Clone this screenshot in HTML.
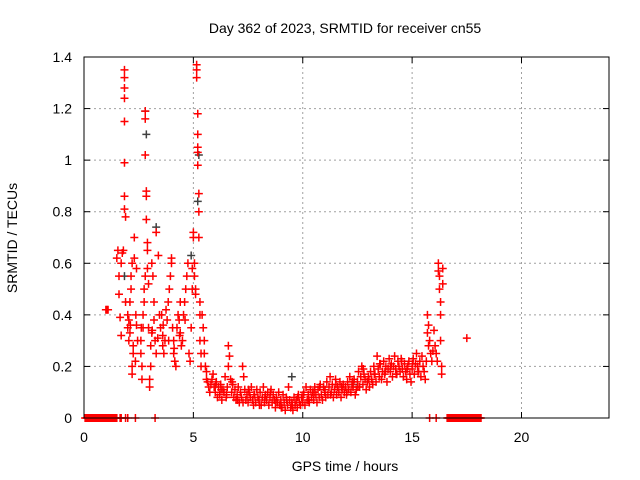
<!DOCTYPE html>
<html><head><meta charset="utf-8"><style>
html,body{margin:0;padding:0;background:#fff}
svg{display:block;font-family:"Liberation Sans",sans-serif}
</style></head><body>
<svg id="chart" width="640" height="480" viewBox="0 0 640 480">
<rect width="640" height="480" fill="#fff"/>
<text x="345" y="33" font-size="14" text-anchor="middle">Day 362 of 2023, SRMTID for receiver cn55</text>
<text x="345" y="471" font-size="14" text-anchor="middle">GPS time / hours</text>
<text transform="translate(17,238) rotate(-90)" font-size="14" text-anchor="middle">SRMTID / TECUs</text>
<g id="grid"></g>
<g id="ticks"></g>
<g id="gray"></g>
<g id="red"></g>
<rect x="84" y="57" width="525" height="361" fill="none" stroke="#000" stroke-width="1"/>
</svg>
<script>
const xTicks=[0,5,10,15,20];
const yTicks=[0,0.2,0.4,0.6,0.8,1,1.2,1.4];
const yTickLabels=["0","0.2","0.4","0.6","0.8","1","1.2","1.4"];
const redT=[
0.05,0.1,0.15,0.2,0.25,0.3,0.35,0.4,0.45,0.5,0.55,0.6,0.65,0.7,0.75,0.8,0.85,0.9,0.95,1.0,1.05,1.1,1.15,1.2,1.25,1.3,1.35,1.4,1.45,1.5,1.65,1.7,1.9,2.0,2.35,3.25,
15.8,16.1,16.6,16.65,16.7,16.75,16.8,16.85,16.9,16.95,17.0,17.05,17.1,17.15,17.2,17.25,17.3,17.35,17.4,17.45,17.5,17.55,17.6,17.65,17.7,17.75,17.8,17.85,17.9,17.95,18.0,18.05,18.1,18.15,
1.0,1.05,1.1,
1.5,1.55,1.6,1.6,1.65,1.7,1.7,1.75,1.8,1.85,1.85,1.85,1.85,1.85,1.85,1.85,1.85,1.9,1.9,
2.0,2.0,2.05,2.05,2.1,2.1,2.15,2.15,2.2,2.2,2.2,2.25,2.25,2.3,2.3,2.35,2.4,2.4,2.45,
2.6,2.6,2.65,2.65,2.7,2.7,2.75,2.75,2.8,2.8,2.8,2.8,2.85,2.85,2.85,2.9,2.9,2.9,2.95,2.95,
3.0,3.0,3.05,3.05,3.1,3.1,3.15,3.2,3.2,3.25,3.3,3.3,3.4,3.45,
3.5,3.55,3.6,3.6,3.65,3.7,3.75,3.8,3.85,3.9,3.95,4.0,4.0,4.05,4.1,4.1,4.15,4.2,4.25,4.3,4.35,4.4,4.4,4.45,
4.5,4.55,4.6,4.65,4.7,4.75,4.8,4.85,4.9,4.95,4.95,
5.0,5.0,5.05,5.05,5.1,5.1,5.15,5.15,5.15,5.2,5.2,5.2,5.2,5.2,5.25,5.25,5.25,5.3,5.3,5.3,5.35,5.35,
5.4,5.45,5.5,5.5,5.55,5.6,5.6,5.65,5.7,5.75,5.8,5.85,5.9,5.95,
6.0,6.05,6.1,6.15,6.2,6.25,6.3,6.35,6.4,6.45,6.5,6.55,6.6,6.6,6.65,6.7,6.75,6.8,6.85,6.9,6.95,
7.0,7.05,7.1,7.15,7.2,7.25,7.3,7.35,7.4,7.45,7.5,7.55,7.6,7.65,7.7,7.75,7.8,7.85,7.9,7.95,
8.0,8.05,8.1,8.15,8.2,8.25,8.3,8.35,8.4,8.45,8.5,8.55,8.6,8.65,8.7,8.75,8.8,8.85,8.9,8.95,
9.0,9.05,9.1,9.15,9.2,9.25,9.3,9.35,9.4,9.45,9.5,9.55,9.6,9.65,9.7,9.75,9.8,9.85,9.9,9.95,
10.0,10.05,10.1,10.15,10.2,10.25,10.3,10.35,10.4,10.45,10.5,10.55,10.6,10.65,10.7,10.75,10.8,10.85,10.9,10.95,
11.0,11.05,11.1,11.15,11.2,11.25,11.3,11.35,11.4,11.45,11.5,11.55,11.6,11.65,11.7,11.75,11.8,11.85,11.9,11.95,
12.0,12.05,12.1,12.15,12.2,12.25,12.3,12.35,12.4,12.45,12.5,12.55,12.6,12.65,12.7,12.75,12.8,12.85,12.9,12.95,
13.0,13.05,13.1,13.15,13.2,13.25,13.3,13.35,13.4,13.45,13.5,13.55,13.6,13.65,13.7,13.75,13.8,13.85,13.9,13.95,
14.0,14.05,14.1,14.15,14.2,14.25,14.3,14.35,14.4,14.45,14.5,14.55,14.6,14.65,14.7,14.75,14.8,14.85,14.9,14.95,
15.0,15.05,15.1,15.15,15.2,15.25,15.3,15.35,15.4,15.45,15.5,15.55,15.6,15.65,15.7,15.7,15.75,15.75,15.8,15.85,15.9,15.95,
16.0,16.05,16.1,16.15,16.2,16.2,16.25,16.25,16.3,16.3,16.3,16.35,16.35,16.4,16.4,17.5,
6.02,6.27,6.52,6.77,7.02,7.27,7.52,7.77,8.02,8.27,8.52,8.77,9.02,9.27,9.52,9.77,10.02,10.27,10.52,10.77,
11.02,11.27,11.52,11.77,12.02,12.27,12.52,12.77,13.02,13.27,13.52,13.77,14.02,14.27,14.52,14.77,15.02,15.27,
3.62,3.87,4.12,4.37,4.62,2.12,2.37,2.62,3.12,3.37
];
const redV=[
0,0,0,0,0,0,0,0,0,0,0,0,0,0,0,0,0,0,0,0,0,0,0,0,0,0,0,0,0,0,0,0,0,0,0,0,
0,0,0,0,0,0,0,0,0,0,0,0,0,0,0,0,0,0,0,0,0,0,0,0,0,0,0,0,0,0,0,0,0,0,
0.42,0.42,0.42,
0.62,0.65,0.55,0.48,0.39,0.32,0.6,0.64,0.65,1.35,1.32,1.28,1.24,1.15,0.99,0.86,0.81,0.78,0.45,
0.4,0.35,0.3,0.38,0.33,0.45,0.5,0.55,0.6,0.17,0.2,0.25,0.28,0.7,0.62,0.22,0.36,0.58,0.3,
0.3,0.25,0.2,0.15,0.35,0.4,0.45,0.5,0.55,1.19,1.16,1.02,0.88,0.86,0.77,0.68,0.65,0.58,0.52,0.35,
0.15,0.12,0.2,0.28,0.33,0.6,0.55,0.45,0.38,0.3,0.25,0.72,0.63,0.4,
0.35,0.4,0.32,0.28,0.25,0.3,0.42,0.38,0.45,0.5,0.55,0.6,0.62,0.35,0.3,0.25,0.22,0.2,0.35,0.4,0.38,0.45,0.33,0.28,
0.3,0.4,0.45,0.5,0.55,0.6,0.25,0.22,0.35,0.5,0.58,
0.7,0.72,0.6,0.55,0.5,0.48,1.37,1.35,1.32,1.18,1.1,1.05,1.03,0.98,0.87,0.8,0.7,0.45,0.4,0.3,0.25,0.2,
0.4,0.35,0.3,0.25,0.2,0.18,0.15,0.14,0.12,0.1,0.13,0.15,0.17,0.12,
0.1,0.14,0.08,0.12,0.09,0.13,0.07,0.11,0.1,0.16,0.08,0.12,0.28,0.2,0.24,0.15,0.1,0.13,0.08,0.11,0.07,
0.09,0.12,0.06,0.1,0.08,0.2,0.16,0.11,0.07,0.09,0.06,0.1,0.08,0.12,0.07,0.05,0.09,0.06,0.11,0.08,
0.07,0.1,0.05,0.08,0.12,0.06,0.09,0.07,0.1,0.05,0.08,0.11,0.06,0.09,0.07,0.04,0.08,0.06,0.1,0.05,
0.07,0.04,0.09,0.06,0.03,0.08,0.05,0.12,0.07,0.04,0.06,0.03,0.08,0.05,0.07,0.04,0.09,0.06,0.05,0.08,
0.06,0.1,0.05,0.12,0.07,0.09,0.06,0.11,0.08,0.1,0.07,0.12,0.09,0.06,0.11,0.08,0.13,0.09,0.07,0.12,
0.1,0.08,0.14,0.09,0.12,0.16,0.1,0.13,0.08,0.11,0.15,0.09,0.12,0.1,0.14,0.08,0.11,0.13,0.1,0.12,
0.09,0.14,0.11,0.16,0.1,0.13,0.12,0.15,0.09,0.11,0.14,0.18,0.12,0.16,0.2,0.13,0.17,0.15,0.11,0.14,
0.16,0.12,0.18,0.15,0.13,0.2,0.17,0.14,0.24,0.19,0.16,0.21,0.15,0.18,0.22,0.17,0.2,0.14,0.19,0.23,
0.18,0.21,0.16,0.2,0.24,0.19,0.17,0.22,0.2,0.18,0.23,0.19,0.16,0.21,0.18,0.15,0.2,0.22,0.17,0.14,
0.19,0.23,0.17,0.21,0.25,0.2,0.18,0.22,0.16,0.24,0.2,0.18,0.15,0.22,0.4,0.33,0.28,0.36,0.3,0.25,0.22,0.26,
0.34,0.28,0.25,0.22,0.6,0.57,0.55,0.5,0.45,0.4,0.3,0.2,0.17,0.52,0.58,0.31,
0.13,0.11,0.09,0.14,0.07,0.06,0.11,0.09,0.05,0.08,0.1,0.06,0.04,0.07,0.05,0.08,0.09,0.07,0.1,0.12,
0.11,0.09,0.13,0.12,0.1,0.14,0.12,0.19,0.15,0.17,0.21,0.18,0.2,0.17,0.22,0.19,0.21,0.18,
0.36,0.3,0.27,0.32,0.38,0.36,0.4,0.35,0.34,0.31
];
const grayT=[1.85,2.8,2.85,3.3,4.9,5.2,5.25,9.5,12.3];
const grayV=[0.55,1.19,1.1,0.74,0.63,0.84,1.02,0.16,0.13];

const NS="http://www.w3.org/2000/svg";
const X0=84,X1=609,Y0=418,Y1=57;
function xs(t){return X0+(t/24)*(X1-X0);}
function ys(v){return Y0-(v/1.4)*(Y0-Y1);}
const grid=document.getElementById('grid'),ticks=document.getElementById('ticks');
function mk(tag,attrs,parent){const e=document.createElementNS(NS,tag);for(const k in attrs)e.setAttribute(k,attrs[k]);parent.appendChild(e);return e;}
xTicks.forEach(t=>{
  const x=xs(t);
  if(t>0){const g=mk('line',{x1:x,x2:x,y1:Y1,y2:Y0,stroke:'#a0a0a0','stroke-dasharray':'2,3'},grid);
  
  }
  const a=mk('line',{x1:x,x2:x,y1:Y0,y2:Y0-6,stroke:'#000'},ticks);
  
  
  const b=mk('line',{x1:x,x2:x,y1:Y1,y2:Y1+6,stroke:'#000'},ticks);
  
  
  const l=mk('text',{x:x,y:442,'font-size':'14','text-anchor':'middle'},ticks);
  l.textContent=String(t);
  
  
});
yTicks.forEach((v,i)=>{
  const y=ys(v);
  if(v>0&&v<1.4){const g=mk('line',{x1:X0,x2:X1,y1:y,y2:y,stroke:'#a0a0a0','stroke-dasharray':'2,3'},grid);
  
  }
  const a=mk('line',{x1:X0,x2:X0+6,y1:y,y2:y,stroke:'#000'},ticks);
  
  
  const b=mk('line',{x1:X1,x2:X1-6,y1:y,y2:y,stroke:'#000'},ticks);
  
  
  const l=mk('text',{x:72,y:y+5,'font-size':'14','text-anchor':'end'},ticks);
  l.textContent=yTickLabels[i];
  
  
});
function plot(T,V,col,parent,name){
  for(let i=0;i<T.length;i++){
    const x=xs(T[i]),y=ys(V[i]);
    const p=mk('path',{d:`M${x-4},${y}h8M${x},${y-4}v8`,stroke:col,'stroke-width':'1.5',fill:'none'},parent);
    
    
  }
}
plot(grayT,grayV,'#404040',document.getElementById('gray'),'gray-point');
plot(redT,redV,'#ff0000',document.getElementById('red'),'red-point');
</script>
</body></html>
